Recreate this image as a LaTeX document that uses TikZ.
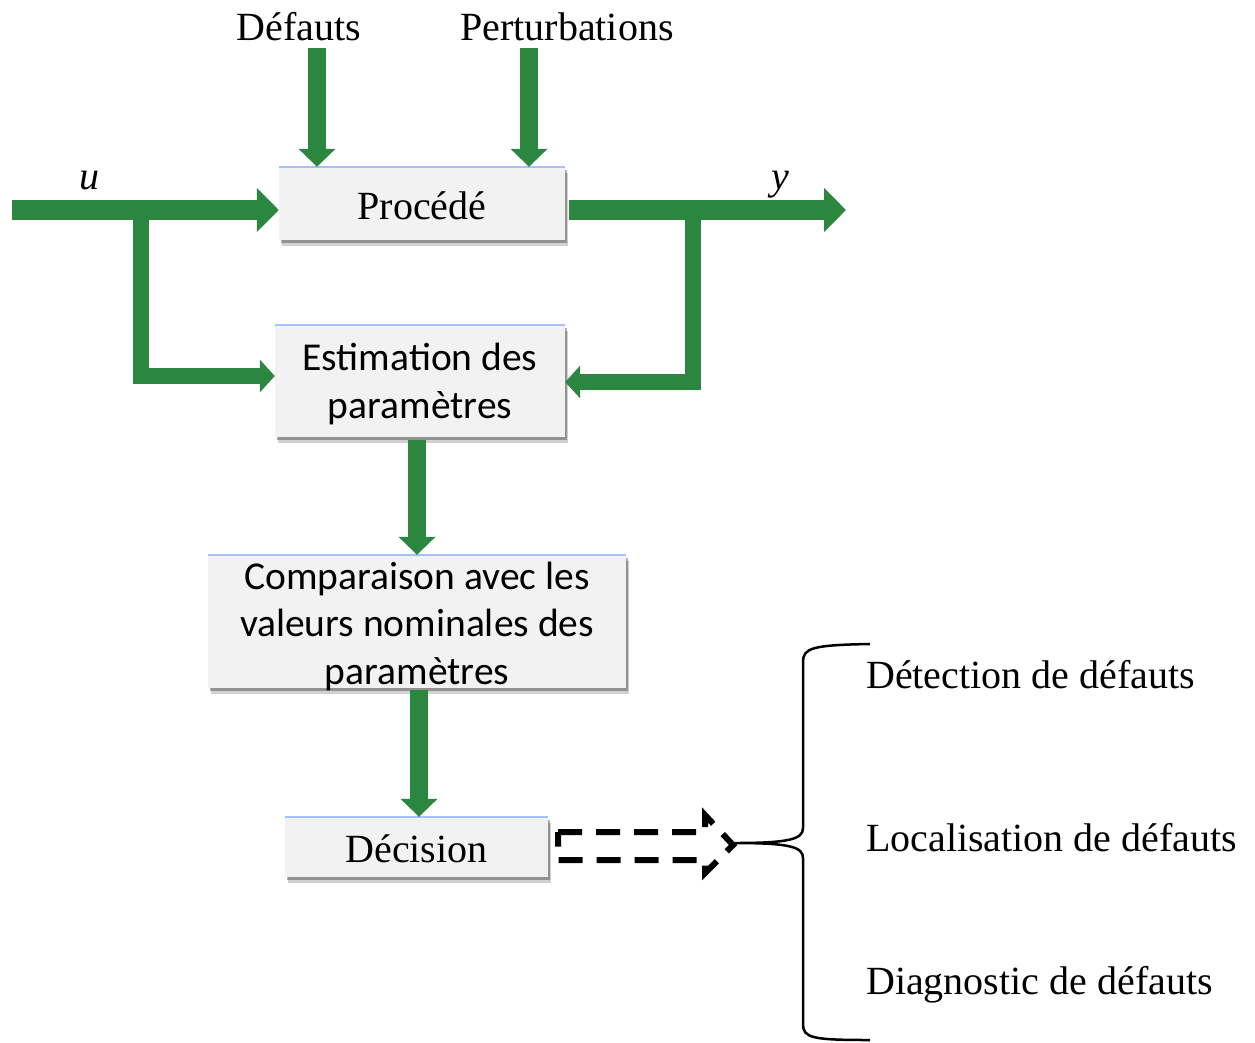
\documentclass[tikz,border=0pt]{standalone}
\usepackage{fontspec}
\setmainfont{Liberation Serif}
\newfontfamily\calfont{Carlito}
\usetikzlibrary{arrows.meta,shadows}
\definecolor{fgreen}{RGB}{43,134,64}
\definecolor{boxfill}{RGB}{242,242,242}
\definecolor{topblue}{RGB}{164,194,244}
\begin{document}
\begin{tikzpicture}[x=1pt,y=-1pt,
  box/.style={fill=boxfill, draw=none, inner sep=0pt,
    drop shadow={shadow xshift=3pt, shadow yshift=-6pt, opacity=0.18, fill=black},
    drop shadow={shadow xshift=2pt, shadow yshift=-3pt, opacity=0.3, fill=black}},
  tfont/.style={font=\fontsize{40}{48}\selectfont},
  cfont/.style={font=\calfont\fontsize{39.5}{47.5}\selectfont, align=center, inner sep=0pt},
  lbl/.style={font=\fontsize{40}{48}\selectfont, inner sep=0pt},
  topline/.style={draw=topblue, line width=2.5pt},
  gthick/.style={draw=fgreen, line width=20pt, -{Triangle[width=43pt,length=22pt]}},
  gthin/.style={draw=fgreen, line width=16pt, line join=miter, -{Triangle[width=32pt,length=15pt]}},
  gvert/.style={draw=fgreen, line width=18pt, -{Triangle[width=36pt,length=18pt]}},
  dashbox/.style={draw=black, line width=6pt, dash pattern=on 24pt off 14pt, line join=miter}
]
\useasboundingbox (0,0) rectangle (1255,1042);

% boxes
\node[box, minimum width=286pt, minimum height=73pt] (proc) at (422,203.5) {};
\node[box, minimum width=290pt, minimum height=112pt] (est) at (420,381) {};
\node[box, minimum width=418pt, minimum height=133pt] (comp) at (417,621.5) {};
\node[box, minimum width=263pt, minimum height=60pt] (dec) at (416.5,847) {};

\foreach \b in {proc,est,comp,dec}{\draw[topline] (\b.north west) -- (\b.north east);}

% box texts
\node[tfont, inner sep=0pt] (procT) at (422,206) {Procédé};
\node[cfont] (estT) at (420,384) {Estimation des\\paramètres};
\node[cfont] (compT) at (417,626) {Comparaison avec les\\valeurs nominales des\\paramètres};
\node[tfont, inner sep=0pt] (decT) at (416.5,849) {Décision};

% top labels
\node[lbl] (def) at (299,27) {Défauts};
\node[lbl] (pert) at (567,27) {Perturbations};
\coordinate (defs) at (317,48);
\coordinate (perts) at (529,48);
\draw[gvert] (defs) -- (defs |- proc.north);
\draw[gvert] (perts) -- (perts |- proc.north);

% input u
\coordinate (uin) at (12,210);
\coordinate (ubr) at (141,205);
\coordinate (ulow) at (0,376);
\node[lbl, font=\fontsize{40}{48}\selectfont\itshape] (ulab) at (89,181) {u};
\draw[gthick] (uin) -- (uin -| proc.west);
\draw[gthin] (ubr) |- (est.west |- ulow);

% output y
\coordinate (yst) at (569,210);
\coordinate (yend) at (846,210);
\coordinate (ybr) at (693,205);
\coordinate (ylow) at (0,382);
\node[lbl, font=\fontsize{40}{48}\selectfont\itshape] (ylab) at (780,185) {y};
\draw[gthick] (yst) -- (yend);
\draw[gthin] (ybr) |- (est.east |- ylow);

% vertical chain
\coordinate (e1) at (417,440);
\coordinate (c1) at (419,690);
\draw[gvert] (e1) -- (e1 |- comp.north);
\draw[gvert] (c1) -- (c1 |- dec.north);

% dashed block arrow
\draw[dashbox] (558,832) -- (705,832) -- (705,815) -- (733,845) -- (705,873) -- (705,860) -- (558,860) -- cycle;

% brace
\draw[line width=2.5pt] (870,644) .. controls (812,645) and (803,648) .. (803,662)
  -- (803,828) .. controls (803,839) and (790,843) .. (735,843)
  .. controls (790,843) and (803,847) .. (803,858)
  -- (803,1024) .. controls (803,1038) and (812,1040) .. (870,1040);

% right labels
\node[lbl, anchor=west] (det) at (866,675) {Détection de défauts};
\node[lbl, anchor=west] (loc) at (866,838) {Localisation de défauts};
\node[lbl, anchor=west] (diag) at (866,985) {Diagnostic de défauts};
\end{tikzpicture}
\end{document}
